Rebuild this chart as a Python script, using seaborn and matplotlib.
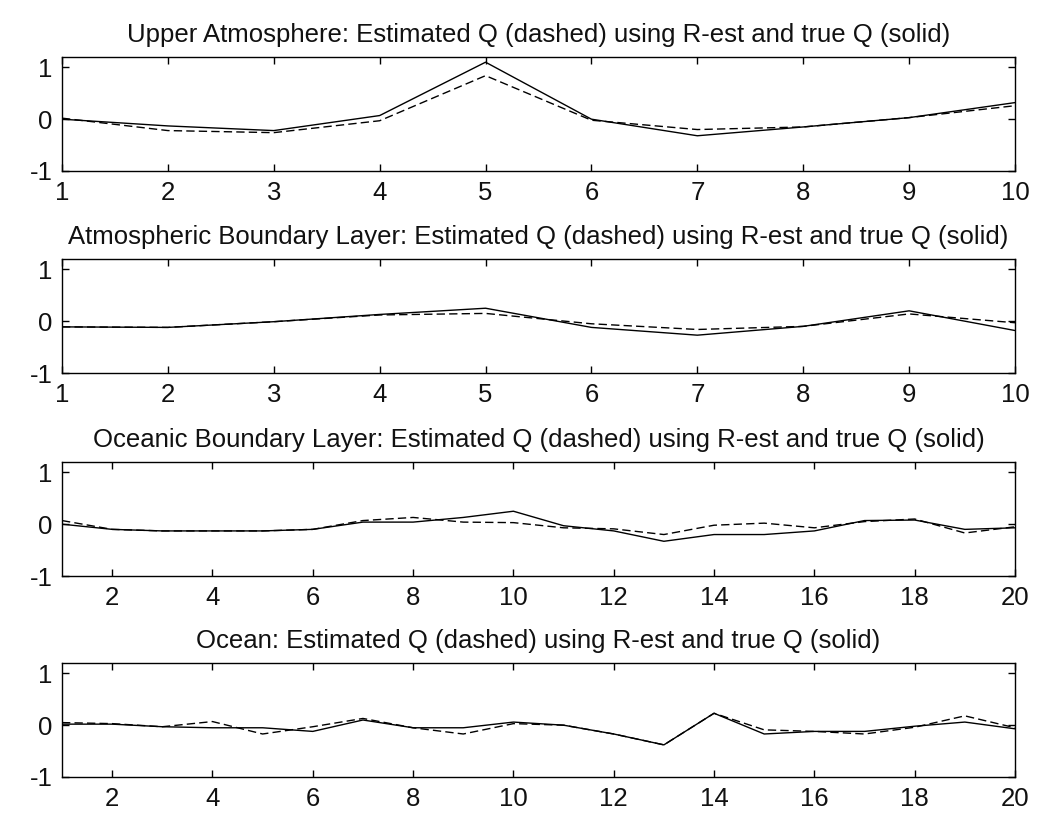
#!/usr/bin/env python
"""
Estimated Q (dashed) vs true Q (solid) for the four layers.
"""

import matplotlib
matplotlib.use("Agg")
import matplotlib.pyplot as plt
import pandas as pd
import seaborn as sns

# values
x_short = list(range(1, 11))
x_long = list(range(1, 21))

upper_true = [0.0, -0.13, -0.22, 0.07, 1.1, 0.0, -0.32, -0.15, 0.03, 0.32]
upper_est = [0.02, -0.22, -0.26, -0.03, 0.84, -0.02, -0.2, -0.15, 0.03, 0.26]

abl_true = [-0.11, -0.12, -0.01, 0.13, 0.25, -0.12, -0.27, -0.1, 0.2, -0.18]
abl_est = [-0.11, -0.12, -0.01, 0.12, 0.15, -0.05, -0.16, -0.1, 0.14, -0.03]

obl_true = [0.0, -0.1, -0.13, -0.13, -0.13, -0.1, 0.04, 0.04, 0.13, 0.25,
            -0.03, -0.13, -0.33, -0.2, -0.2, -0.13, 0.07, 0.08, -0.1, -0.07]
obl_est = [0.07, -0.1, -0.13, -0.13, -0.13, -0.1, 0.07, 0.13, 0.04, 0.03,
           -0.07, -0.09, -0.2, -0.02, 0.02, -0.07, 0.05, 0.1, -0.17, -0.05]

ocean_true = [0.02, 0.02, -0.03, -0.05, -0.05, -0.12, 0.1, -0.05, -0.05, 0.06,
              0.0, -0.17, -0.38, 0.23, -0.17, -0.12, -0.12, -0.02, 0.06, -0.07]
ocean_est = [0.05, 0.03, -0.03, 0.07, -0.17, -0.03, 0.13, -0.05, -0.17, 0.03,
             0.0, -0.17, -0.38, 0.23, -0.09, -0.12, -0.17, -0.04, 0.18, -0.05]

titles = [
    "Upper Atmosphere: Estimated Q (dashed) using R-est and true Q (solid)",
    "Atmospheric Boundary Layer: Estimated Q (dashed) using R-est and true Q (solid)",
    "Oceanic Boundary Layer: Estimated Q (dashed) using R-est and true Q (solid)",
    "Ocean: Estimated Q (dashed) using R-est and true Q (solid)",
]


def main() -> None:
    sns.set_style("ticks")
    plt.rcParams["font.family"] = ["Liberation Sans", "DejaVu Sans"]
    plt.rcParams["axes.unicode_minus"] = False
    plt.rcParams["xtick.direction"] = "in"
    plt.rcParams["ytick.direction"] = "in"

    panels = [
        (x_short, upper_true, upper_est, list(range(1, 11))),
        (x_short, abl_true, abl_est, list(range(1, 11))),
        (x_long, obl_true, obl_est, list(range(2, 21, 2))),
        (x_long, ocean_true, ocean_est, list(range(2, 21, 2))),
    ]

    fig = plt.figure(figsize=(10.58, 8.14), dpi=100)
    W, H = 1058, 814
    tops = [57, 259, 462, 663]
    left, right, height = 62, 1015, 114

    for top, title, (xs, true_q, est_q, xticks) in zip(tops, titles, panels):
        ax = fig.add_axes([left / W, 1 - (top + height) / H, (right - left) / W, height / H])
        df = pd.DataFrame({"x": xs, "true": true_q, "est": est_q})
        sns.lineplot(data=df, x="x", y="true", color="black", linewidth=1.0, ax=ax)
        sns.lineplot(data=df, x="x", y="est", color="black", linewidth=1.0,
                     ax=ax).lines[-1].set_dashes((6, 3))
        ax.set_xlim(xs[0], xs[-1])
        ax.set_ylim(-1, 1.2)
        ax.set_xticks(xticks)
        ax.set_yticks([-1, 0, 1])
        ax.set_xlabel("")
        ax.set_ylabel("")
        ax.set_title(title, fontsize=18.5, pad=11, color="#111111")
        ax.tick_params(axis="both", labelsize=18.5, length=5, width=1,
                       top=True, right=True, color="black", pad=7,
                       labelcolor="#111111")
        for sp in ax.spines.values():
            sp.set_color("black")
            sp.set_linewidth(1.0)
            sp.set_visible(True)

    fig.savefig("out.png", dpi=100)
    plt.close(fig)


if __name__ == "__main__":
    main()
